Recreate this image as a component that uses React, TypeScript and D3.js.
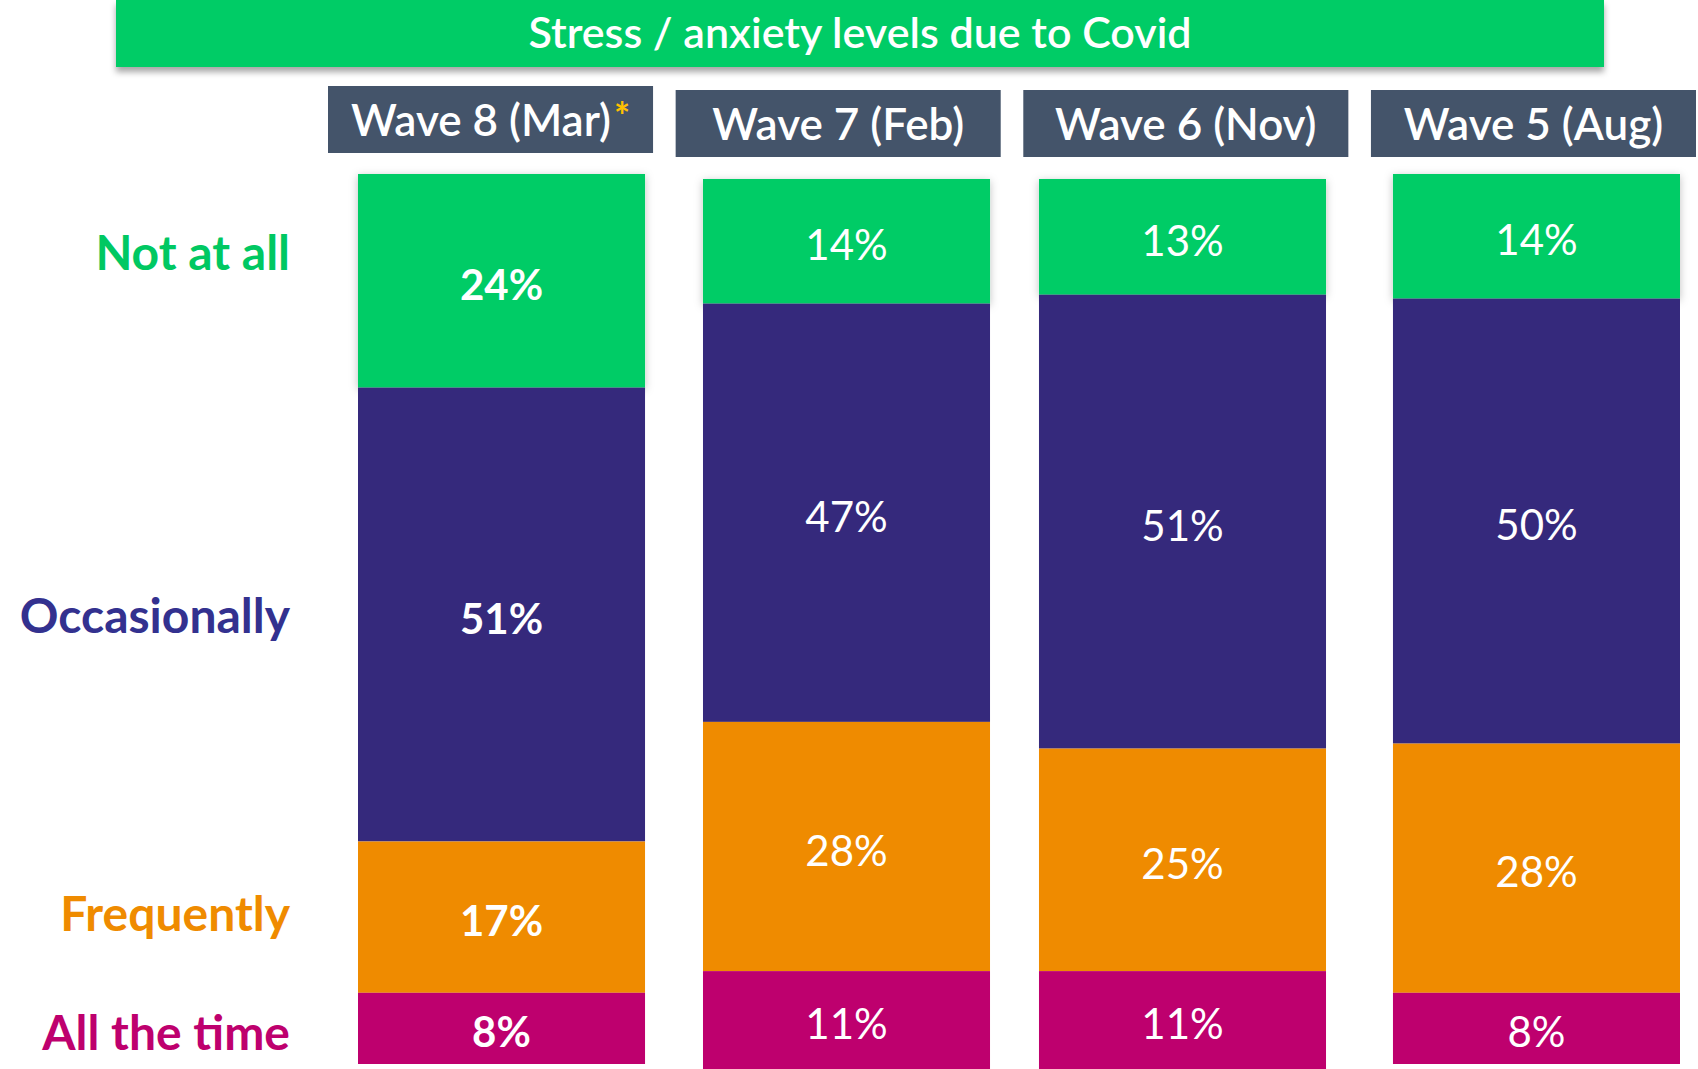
import React from "react";
import * as d3 from "d3";

const waves = ["Wave 8 (Mar)", "Wave 7 (Feb)", "Wave 6 (Nov)", "Wave 5 (Aug)"];
const waveStarred = [true, false, false, false];
const categories = ["Not at all", "Occasionally", "Frequently", "All the time"];
const notAtAll = [24, 14, 13, 14];
const occasionally = [51, 47, 51, 50];
const frequently = [17, 28, 25, 28];
const allTheTime = [8, 11, 11, 8];
const boldLabels = [true, false, false, false];
const titleText = "Stress / anxiety levels due to Covid";

const W = 1698;
const H = 1069;
const colors = ["#00CC66", "#35297C", "#EF8B00", "#BE006E"];
const labelColors = ["#00C862", "#33318F", "#EF8B00", "#BE006E"];
const headerFill = "#44546A";
const columnNudge = [0, 5, 5, 0];
const columnNudgeX = [0, 0, -9, 0];
const headerNudge = [0, 4, 4, 4];
const rowLabelNudge = [-29, 0, -5, 3];
const FONT = "Lato, 'Open Sans', 'DejaVu Sans', sans-serif";

export default function App() {
  const series = [notAtAll, occasionally, frequently, allTheTime];
  const x = d3.scaleBand<string>().domain(waves).range([358, 1680]).paddingInner(0.168).paddingOuter(0);
  const hx = d3.scaleBand<string>().domain(waves).range([328, 1696]).paddingInner(0.065).paddingOuter(0);
  const y = d3.scaleLinear().domain([0, 100]).range([174, 1064]);

  const rows = waves.map((w, i) => {
    let acc = 0;
    return series.map((s, k) => {
      const v = s[i];
      const seg = { k, v, y0: acc, y1: acc + v };
      acc += v;
      return seg;
    });
  });

  return (
    <svg width={W} height={H} style={{ position: "absolute", left: 0, top: 0, background: "#fff" }} fontFamily={FONT}>
      <defs>
        <filter id="shadow" x="-10%" y="-10%" width="120%" height="140%">
          <feDropShadow dx="0" dy="5" stdDeviation="3" floodColor="#000" floodOpacity="0.35" />
        </filter>
        <filter id="soft" x="-10%" y="-10%" width="120%" height="130%">
          <feDropShadow dx="0" dy="2" stdDeviation="4" floodColor="#000" floodOpacity="0.25" />
        </filter>
      </defs>
      <rect x={116} y={0} width={1604 - 116} height={67} fill={colors[0]} filter="url(#shadow)" />
      <text x={860} y={48} textAnchor="middle" fill="#fff" fontSize={43} fontWeight={600}>{titleText}</text>

      {waves.map((w, i) => (
        <g key={w}>
          <rect x={hx(w)} y={86 + headerNudge[i]} width={hx.bandwidth()} height={67} fill={headerFill} />
          <text x={(hx(w) as number) + hx.bandwidth() / 2} y={136 + headerNudge[i]} textAnchor="middle" fill="#fff" fontSize={44} fontWeight={600}>
            {w}
            {waveStarred[i] ? (
              <tspan fill="#FFC000" fontSize={38} fontWeight={700} dx={3} dy={-6}>*</tspan>
            ) : null}
          </text>
        </g>
      ))}

      {waves.map((w, i) => (
        <g key={"bar" + w} transform={`translate(${columnNudgeX[i]},${columnNudge[i]})`}>
          {rows[i].map((s) => (
            <rect key={s.k} x={x(w)} y={y(s.y0)} width={x.bandwidth()} height={y(s.y1) - y(s.y0)} fill={colors[s.k]}
              filter={s.k === 0 ? "url(#soft)" : undefined} />
          ))}
          {rows[i].map((s) => (
            <text key={"t" + s.k} x={(x(w) as number) + x.bandwidth() / 2} y={(y(s.y0) + y(s.y1)) / 2 + 3}
              dominantBaseline="central" textAnchor="middle" fill="#fff" fontSize={42}
              fontWeight={boldLabels[i] ? 700 : 400}>
              {s.v}%
            </text>
          ))}
        </g>
      ))}

      {categories.map((c, k) => {
        const s = rows[0][k];
        return (
          <text key={c} x={290} y={(y(s.y0) + y(s.y1)) / 2 + rowLabelNudge[k]} dominantBaseline="central" textAnchor="end"
            fill={labelColors[k]} fontSize={48} fontWeight={700}>
            {c}
          </text>
        );
      })}
    </svg>
  );
}
